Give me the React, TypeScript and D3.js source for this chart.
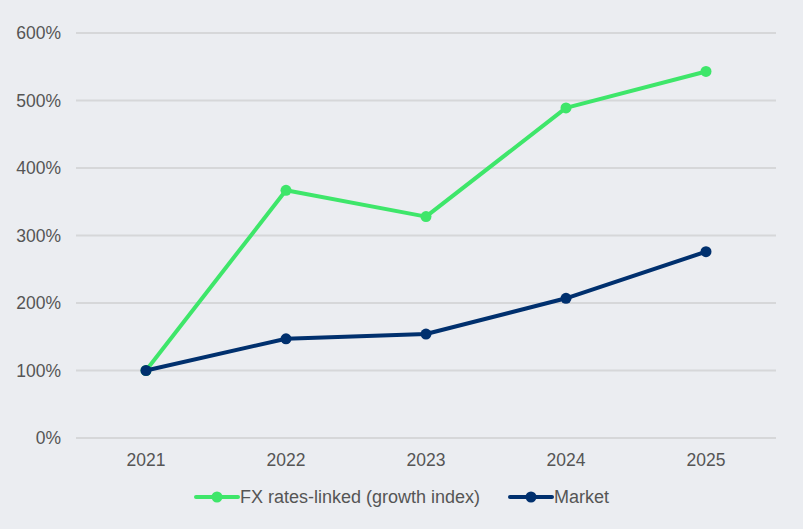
import React from 'react'
import * as d3 from 'd3'

const YEARS = ['2021', '2022', '2023', '2024', '2025']
const FX_LINKED = [100, 367, 328, 489, 543]
const MARKET = [100, 147, 154, 207, 276]
const Y_TICKS = [0, 100, 200, 300, 400, 500, 600]

const SERIES = [
  { name: 'FX rates-linked (growth index)', values: FX_LINKED, color: '#3ee66a' },
  { name: 'Market', values: MARKET, color: '#00306e' }
]

const W = 803
const H = 529
const FONT = '"Liberation Sans", Arial, sans-serif'

const App: React.FC = () => {
  const x = d3.scaleBand<string>().domain(YEARS).range([76, 776])
  const y = d3.scaleLinear().domain([0, 600]).range([438, 33])

  const line = d3.line<number>()
    .x((_, i) => (x(YEARS[i]) ?? 0) + x.bandwidth() / 2)
    .y(d => y(d))

  // legend placement
  const legendItems = [
    { ...SERIES[0], x0: 196 },
    { ...SERIES[1], x0: 510 }
  ]

  return (
    <svg width={W} height={H} style={{ position: 'absolute', left: 0, top: 0, display: 'block' }}>
      <rect width={W} height={H} fill="#ebedf1" />

      {Y_TICKS.map(t => (
        <g key={t}>
          <line x1={76} x2={776} y1={y(t)} y2={y(t)} stroke="#d6d7d9" strokeWidth={2} />
          <text x={61} y={y(t)} dy="0.35em" textAnchor="end" fontFamily={FONT} fontSize={17.5} fill="#555">
            {t}%
          </text>
        </g>
      ))}

      {YEARS.map(yr => (
        <text key={yr} x={(x(yr) ?? 0) + x.bandwidth() / 2} y={466} textAnchor="middle"
          fontFamily={FONT} fontSize={17.5} fill="#555">
          {yr}
        </text>
      ))}

      {SERIES.map(s => (
        <g key={s.name}>
          <path d={line(s.values) ?? ''} fill="none" stroke={s.color} strokeWidth={4} strokeLinejoin="round" />
          {s.values.map((v, i) => (
            <circle key={i} cx={(x(YEARS[i]) ?? 0) + x.bandwidth() / 2} cy={y(v)} r={5.5} fill={s.color} />
          ))}
        </g>
      ))}

      {legendItems.map(l => (
        <g key={l.name}>
          <line x1={l.x0} x2={l.x0 + 42} y1={497} y2={497} stroke={l.color} strokeWidth={4} strokeLinecap="round" />
          <circle cx={l.x0 + 21} cy={497} r={5.5} fill={l.color} />
          <text x={l.x0 + 44} y={497} dy="0.35em" fontFamily={FONT} fontSize={18} fill="#555">
            {l.name}
          </text>
        </g>
      ))}
    </svg>
  )
}

export default App
